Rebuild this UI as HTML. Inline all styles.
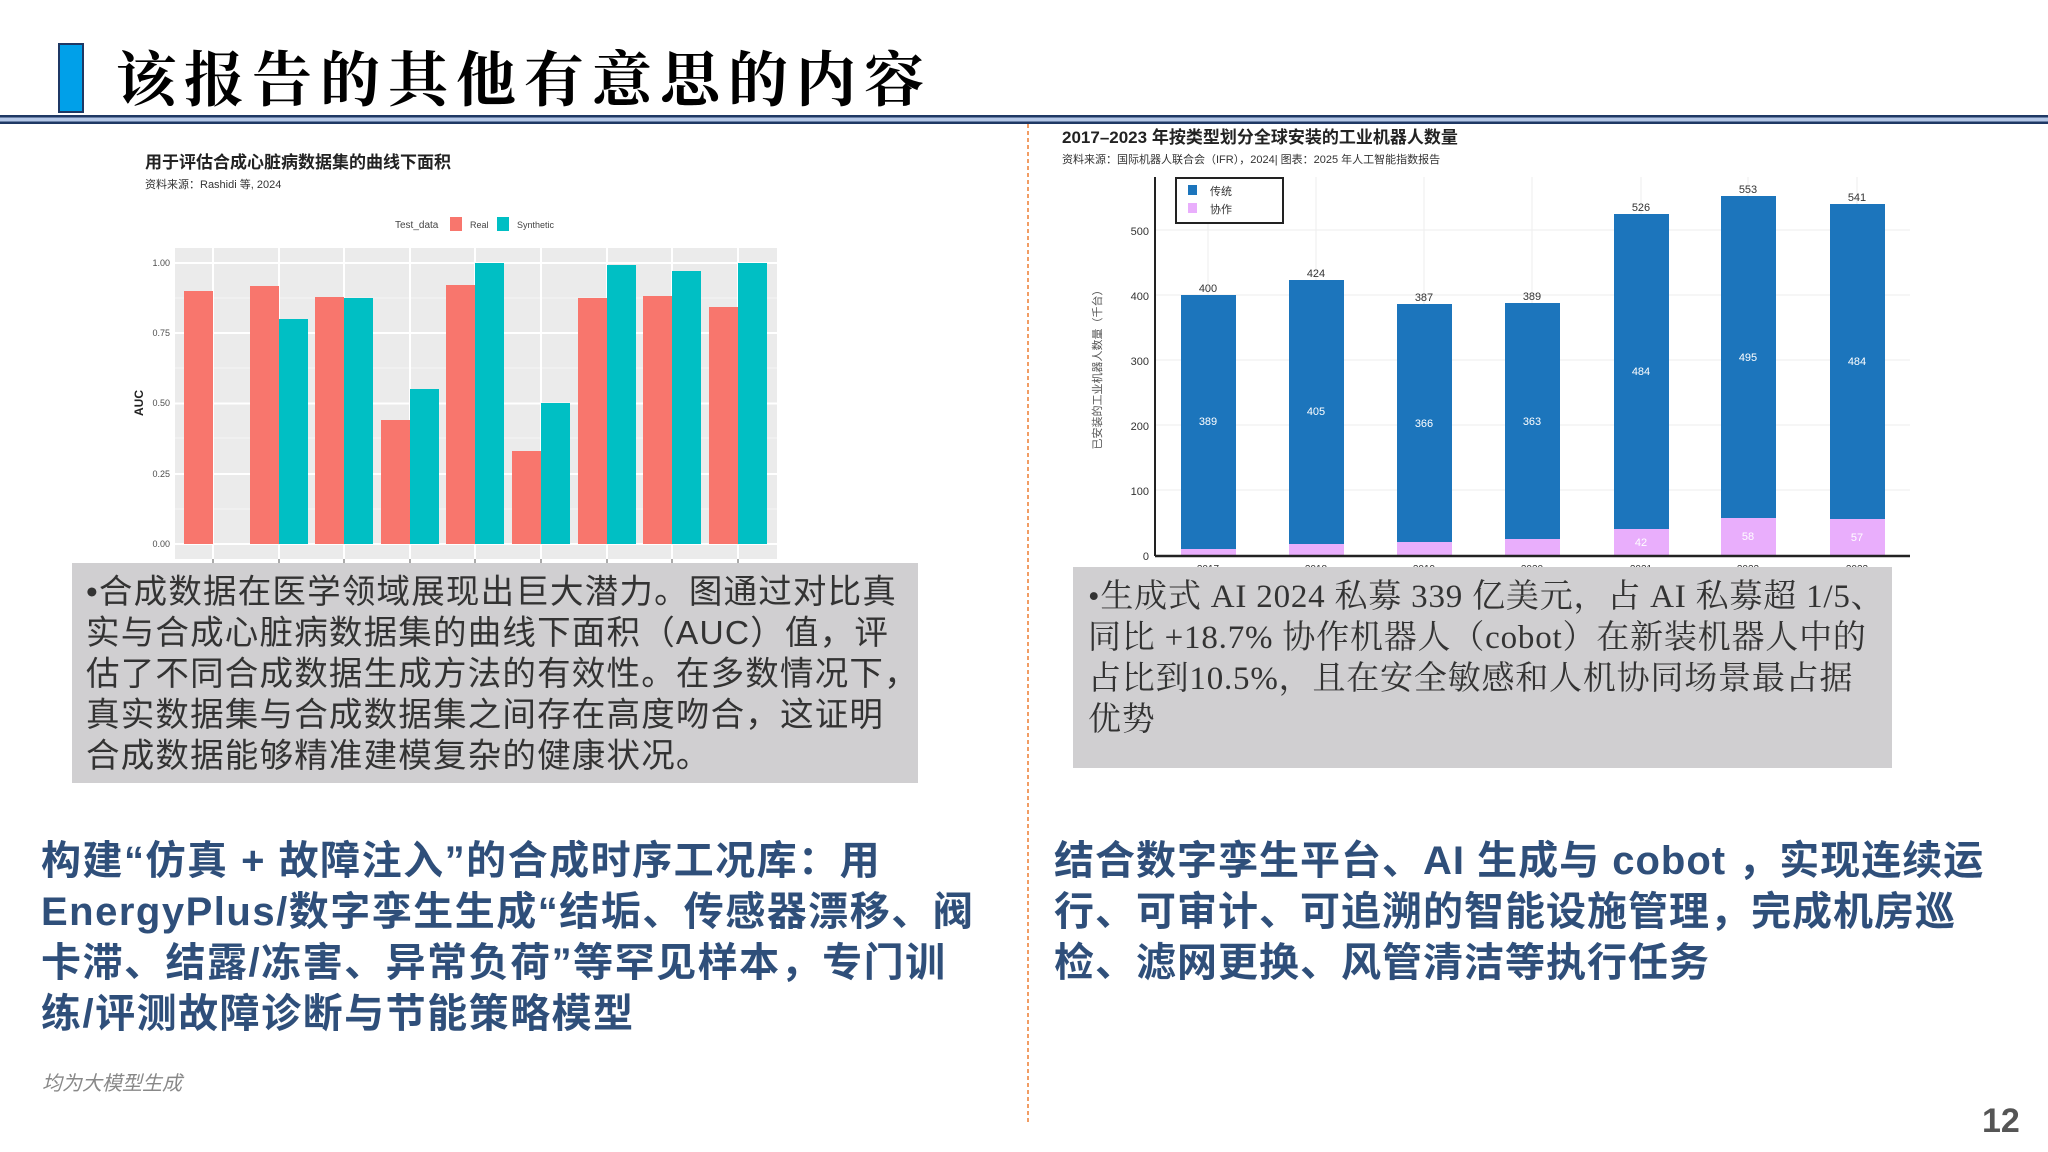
<!DOCTYPE html>
<html><head><meta charset="utf-8"><style>
body{margin:0;width:2048px;height:1152px;position:relative;background:#fff;overflow:hidden;font-family:"Liberation Sans","Noto Sans CJK SC",sans-serif}
.a{position:absolute;white-space:nowrap}
.box{position:absolute;background:#d0cfd1}
.g{color:#333;font-size:33.5px;line-height:41px;letter-spacing:1.2px}
.b{color:#2f4f7a;font-weight:bold;font-size:40px;line-height:51px;font-family:"Liberation Sans","Noto Sans CJK SC",sans-serif}
.s{font-family:"Liberation Serif","Noto Serif CJK SC",serif;font-size:33px;line-height:41px;color:#333;letter-spacing:0.8px}
</style></head><body>
<svg class="a" style="left:0;top:0" width="2048" height="1152" xmlns="http://www.w3.org/2000/svg">
<rect x="59" y="44" width="24" height="68" fill="#00a0e9" stroke="#1f3864" stroke-width="2"/>
<text x="116" y="101" font-family="Noto Serif CJK SC, serif" font-weight="bold" font-size="60" letter-spacing="8" fill="#000">该报告的其他有意思的内容</text>
<rect x="0" y="115" width="2048" height="9" fill="#b4c7e7"/>
<rect x="0" y="115" width="2048" height="2.5" fill="#1f3864"/>
<rect x="0" y="121.5" width="2048" height="2.5" fill="#1f3864"/>
<line x1="1028" y1="124" x2="1028" y2="1125" stroke="#ed7d31" stroke-width="1.5" stroke-dasharray="4 3"/>

<text x="145" y="168" font-size="17" font-weight="bold" fill="#222">用于评估合成心脏病数据集的曲线下面积</text>
<text x="145" y="188" font-size="11" fill="#333">资料来源：Rashidi 等, 2024</text>
<text x="395" y="228" font-size="10" fill="#444">Test_data</text>
<rect x="450" y="217" width="12" height="14" fill="#f8766d"/><text x="470" y="228" font-size="9" fill="#444">Real</text>
<rect x="497" y="217" width="12" height="14" fill="#00bfc4"/><text x="517" y="228" font-size="9" fill="#444">Synthetic</text>
<rect x="175" y="248" width="602" height="311" fill="#ebebeb"/>
<g stroke="#f5f5f5" stroke-width="1"><line x1="175" x2="777" y1="509" y2="509"/><line x1="175" x2="777" y1="438" y2="438"/><line x1="175" x2="777" y1="368" y2="368"/><line x1="175" x2="777" y1="298" y2="298"/></g>
<g stroke="#fff" stroke-width="2">
<line x1="175" x2="777" y1="544" y2="544"/><line x1="175" x2="777" y1="474" y2="474"/><line x1="175" x2="777" y1="403.5" y2="403.5"/><line x1="175" x2="777" y1="333" y2="333"/><line x1="175" x2="777" y1="263" y2="263"/>
<line x1="213" x2="213" y1="248" y2="559"/><line x1="279" x2="279" y1="248" y2="559"/><line x1="344" x2="344" y1="248" y2="559"/><line x1="410" x2="410" y1="248" y2="559"/><line x1="475" x2="475" y1="248" y2="559"/><line x1="541" x2="541" y1="248" y2="559"/><line x1="607" x2="607" y1="248" y2="559"/><line x1="672" x2="672" y1="248" y2="559"/><line x1="738" x2="738" y1="248" y2="559"/>
</g>
<g fill="#f8766d">
<rect x="184" y="291" width="29" height="253"/><rect x="250" y="286" width="29" height="258"/><rect x="315" y="297" width="29" height="247"/><rect x="381" y="420" width="29" height="124"/><rect x="446" y="285" width="29" height="259"/><rect x="512" y="451" width="29" height="93"/><rect x="578" y="298" width="29" height="246"/><rect x="643" y="296" width="29" height="248"/><rect x="709" y="307" width="29" height="237"/>
</g>
<g fill="#00bfc4">
<rect x="279" y="319" width="29" height="225"/><rect x="344" y="298" width="29" height="246"/><rect x="410" y="389" width="29" height="155"/><rect x="475" y="263" width="29" height="281"/><rect x="541" y="403" width="29" height="141"/><rect x="607" y="265" width="29" height="279"/><rect x="672" y="271" width="29" height="273"/><rect x="738" y="263" width="29" height="281"/>
</g>
<g font-size="9" fill="#4d4d4d" text-anchor="end"><text x="170" y="547">0.00</text><text x="170" y="477">0.25</text><text x="170" y="406">0.50</text><text x="170" y="336">0.75</text><text x="170" y="266">1.00</text></g>
<g stroke="#555"><line x1="213" x2="213" y1="559" y2="563"/><line x1="279" x2="279" y1="559" y2="563"/><line x1="344" x2="344" y1="559" y2="563"/><line x1="410" x2="410" y1="559" y2="563"/><line x1="475" x2="475" y1="559" y2="563"/><line x1="541" x2="541" y1="559" y2="563"/><line x1="607" x2="607" y1="559" y2="563"/><line x1="672" x2="672" y1="559" y2="563"/><line x1="738" x2="738" y1="559" y2="563"/></g>
<text x="143" y="403" font-size="12" font-weight="bold" fill="#222" text-anchor="middle" transform="rotate(-90 143 403)">AUC</text>

<text x="1062" y="143" font-size="17" font-weight="bold" fill="#222">2017–2023 年按类型划分全球安装的工业机器人数量</text>
<text x="1062" y="163" font-size="11" fill="#333">资料来源：国际机器人联合会（IFR），2024| 图表：2025 年人工智能指数报告</text>
<g stroke="#eee" stroke-width="1">
<line x1="1155" x2="1910" y1="490" y2="490"/><line x1="1155" x2="1910" y1="425" y2="425"/><line x1="1155" x2="1910" y1="360" y2="360"/><line x1="1155" x2="1910" y1="295" y2="295"/><line x1="1155" x2="1910" y1="230" y2="230"/>
<line x1="1208" x2="1208" y1="177" y2="556"/><line x1="1316" x2="1316" y1="177" y2="556"/><line x1="1424" x2="1424" y1="177" y2="556"/><line x1="1532" x2="1532" y1="177" y2="556"/><line x1="1641" x2="1641" y1="177" y2="556"/><line x1="1748" x2="1748" y1="177" y2="556"/><line x1="1857" x2="1857" y1="177" y2="556"/>
</g>
<g fill="#1c75bc">
<rect x="1181" y="295" width="55" height="261"/><rect x="1289" y="280" width="55" height="276"/><rect x="1397" y="304" width="55" height="252"/><rect x="1505" y="303" width="55" height="253"/><rect x="1614" y="214" width="55" height="342"/><rect x="1721" y="196" width="55" height="360"/><rect x="1830" y="204" width="55" height="352"/>
</g>
<g fill="#e9aefc">
<rect x="1181" y="549" width="55" height="7"/><rect x="1289" y="544" width="55" height="12"/><rect x="1397" y="542" width="55" height="14"/><rect x="1505" y="539" width="55" height="17"/><rect x="1614" y="529" width="55" height="27"/><rect x="1721" y="518" width="55" height="38"/><rect x="1830" y="519" width="55" height="37"/>
</g>
<g font-size="11" fill="#333" text-anchor="middle"><text x="1208" y="292">400</text><text x="1316" y="277">424</text><text x="1424" y="301">387</text><text x="1532" y="300">389</text><text x="1641" y="211">526</text><text x="1748" y="193">553</text><text x="1857" y="201">541</text></g>
<g font-size="11" fill="#fff" text-anchor="middle"><text x="1208" y="425">389</text><text x="1316" y="415">405</text><text x="1424" y="427">366</text><text x="1532" y="425">363</text><text x="1641" y="375">484</text><text x="1748" y="361">495</text><text x="1857" y="365">484</text>
<text x="1641" y="546">42</text><text x="1748" y="540">58</text><text x="1857" y="541">57</text></g>
<line x1="1155" y1="177" x2="1155" y2="556" stroke="#222" stroke-width="2"/>
<line x1="1155" y1="556" x2="1910" y2="556" stroke="#222" stroke-width="2.5"/>
<g font-size="11" fill="#333" text-anchor="end"><text x="1149" y="560">0</text><text x="1149" y="495">100</text><text x="1149" y="430">200</text><text x="1149" y="365">300</text><text x="1149" y="300">400</text><text x="1149" y="235">500</text></g>
<g font-size="10" fill="#333" text-anchor="middle"><text x="1208" y="572">2017</text><text x="1316" y="572">2018</text><text x="1424" y="572">2019</text><text x="1532" y="572">2020</text><text x="1641" y="572">2021</text><text x="1748" y="572">2022</text><text x="1857" y="572">2023</text></g>
<text x="1101" y="367" font-size="11" fill="#555" text-anchor="middle" transform="rotate(-90 1101 367)">已安装的工业机器人数量（千台）</text>
<rect x="1176" y="178" width="107" height="45" fill="#fff" stroke="#222" stroke-width="2"/>
<rect x="1188" y="185" width="9" height="10" fill="#1c75bc"/><text x="1210" y="195" font-size="11" fill="#333">传统</text>
<rect x="1188" y="203" width="9" height="10" fill="#e9aefc"/><text x="1210" y="213" font-size="11" fill="#333">协作</text>
</svg>

<div class="box" style="left:72px;top:563px;width:846px;height:220px"></div>
<div class="a g" style="left:86px;top:572px">•合成数据在医学领域展现出巨大潜力。图通过对比真<br>实与合成心脏病数据集的曲线下面积（AUC）值，评<br>估了不同合成数据生成方法的有效性。在多数情况下，<br>真实数据集与合成数据集之间存在高度吻合，这证明<br>合成数据能够精准建模复杂的健康状况。</div>

<div class="box" style="left:1073px;top:567px;width:819px;height:201px"></div>
<div class="a s" style="left:1088px;top:577px">•生成式 AI 2024 私募 339 亿美元，占 AI 私募超 1/5、<br>同比 +18.7% 协作机器人（cobot）在新装机器人中的<br>占比到10.5%，且在安全敏感和人机协同场景最占据<br>优势</div>

<div class="a b" style="left:41px;top:836px;letter-spacing:1.5px">构建“仿真 + 故障注入”的合成时序工况库：用<br>EnergyPlus/数字孪生生成“结垢、传感器漂移、阀<br>卡滞、结露/冻害、异常负荷”等罕见样本，专门训<br>练/评测故障诊断与节能策略模型</div>

<div class="a b" style="left:1054px;top:836px;letter-spacing:1px">结合数字孪生平台、AI 生成与 cobot ，实现连续运<br>行、可审计、可追溯的智能设施管理，完成机房巡<br>检、滤网更换、风管清洁等执行任务</div>

<div class="a" style="left:42px;top:1067px;font-size:20px;font-style:italic;color:#888">均为大模型生成</div>
<div class="a" style="left:1982px;top:1102px;font-size:34px;font-weight:bold;color:#555">12</div>
</body></html>
